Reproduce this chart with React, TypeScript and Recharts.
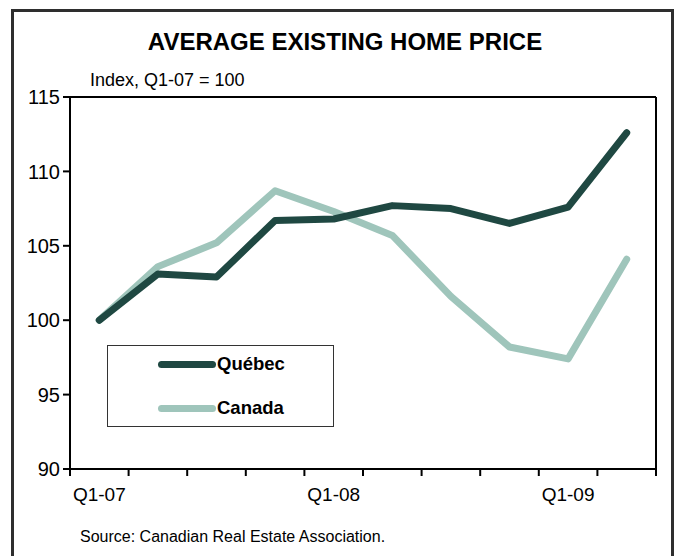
import { LineChart, Line, XAxis, YAxis, ReferenceLine } from "recharts"

const quarters = ["Q1-07", "Q2-07", "Q3-07", "Q4-07", "Q1-08", "Q2-08", "Q3-08", "Q4-08", "Q1-09", "Q2-09"]
const quebec = [100, 103.1, 102.9, 106.7, 106.8, 107.7, 107.5, 106.5, 107.6, 112.6]
const canada = [100, 103.6, 105.2, 108.7, 107.3, 105.7, 101.6, 98.2, 97.4, 104.1]
const yTicks = [90, 95, 100, 105, 110, 115]

const DARK = "#1f4842"
const LIGHT = "#9fc5bb"
const FONT = "'Liberation Sans', Arial, sans-serif"

// x is the band centre so the tick marks can sit on band edges
const data = quarters.map((q, i) => ({ x: i + 0.5, q, quebec: quebec[i], canada: canada[i] }))
const xTicks: number[] = []
for (let i = 0; i <= quarters.length * 2; i++) xTicks.push(i / 2)

function XTick(props: any) {
  const { x, y, payload } = props
  const v = payload.value
  if (Number.isInteger(v)) {
    return <line x1={x} x2={x} y1={y} y2={y + 7} stroke="#000" strokeWidth={2} />
  }
  const q = quarters[v - 0.5]
  if (!q || !q.startsWith("Q1")) return <g />
  return (
    <text x={x} y={y + 32} textAnchor="middle" fontSize={19} fill="#000" fontFamily={FONT}>
      {q}
    </text>
  )
}

function LegendBox() {
  const items = [
    { name: "Québec", color: DARK },
    { name: "Canada", color: LIGHT },
  ]
  return (
    <div style={{ position: "absolute", left: 107, top: 345, width: 227, height: 82, border: "1px solid #333", background: "#fff", boxSizing: "border-box" }}>
      {items.map((it, i) => (
        <div key={it.name} style={{ position: "absolute", left: 50, top: 6 + i * 44, height: 24, display: "flex", alignItems: "center" }}>
          <div style={{ width: 58, height: 7, borderRadius: 4, background: it.color }} />
          <span style={{ fontFamily: FONT, fontWeight: "bold", fontSize: 18.5, color: "#000", marginLeft: 1 }}>{it.name}</span>
        </div>
      ))}
    </div>
  )
}

export default function App() {
  return (
    <div style={{ position: "absolute", left: 0, top: 0, width: 678, height: 556, background: "#fff", overflow: "hidden", fontFamily: FONT }}>
      <div style={{ position: "absolute", left: 11, top: 9, width: 663, height: 580, border: "3px solid #2e2e2e", boxSizing: "border-box" }} />
      <div style={{ position: "absolute", left: 6, width: 678, top: 28, textAlign: "center", fontWeight: "bold", fontSize: 24, color: "#000" }}>
        AVERAGE EXISTING HOME PRICE
      </div>
      <div style={{ position: "absolute", left: 90, top: 70, fontSize: 18, color: "#000" }}>Index, Q1-07 = 100</div>
      <div style={{ position: "absolute", left: 80, top: 528, fontSize: 16, color: "#000" }}>Source: Canadian Real Estate Association.</div>
      <div style={{ position: "absolute", left: 0, top: 0 }}>
        <LineChart width={678} height={556} data={data} margin={{ top: 97, right: 22, bottom: 0, left: 0 }}>
          <XAxis
            dataKey="x"
            type="number"
            domain={[0, quarters.length]}
            ticks={xTicks}
            interval={0}
            tickSize={0}
            tickMargin={0}
            tickLine={false}
            tick={<XTick />}
            axisLine={{ stroke: "#000", strokeWidth: 2 }}
            height={87}
          />
          <YAxis
            type="number"
            domain={[90, 115]}
            ticks={yTicks}
            interval={0}
            width={70}
            tickSize={7}
            tickMargin={3}
            axisLine={{ stroke: "#000", strokeWidth: 2 }}
            tickLine={{ stroke: "#000", strokeWidth: 2 }}
            tick={{ fill: "#000", fontSize: 20, fontFamily: FONT }}
          />
          <ReferenceLine y={115} stroke="#000" strokeWidth={2} />
          <ReferenceLine x={quarters.length} stroke="#000" strokeWidth={2} />
          <Line dataKey="canada" stroke={LIGHT} strokeWidth={7} dot={false} strokeLinecap="round" strokeLinejoin="round" isAnimationActive={false} />
          <Line dataKey="quebec" stroke={DARK} strokeWidth={7} dot={false} strokeLinecap="round" strokeLinejoin="round" isAnimationActive={false} />
        </LineChart>
      </div>
      <LegendBox />
    </div>
  )
}
